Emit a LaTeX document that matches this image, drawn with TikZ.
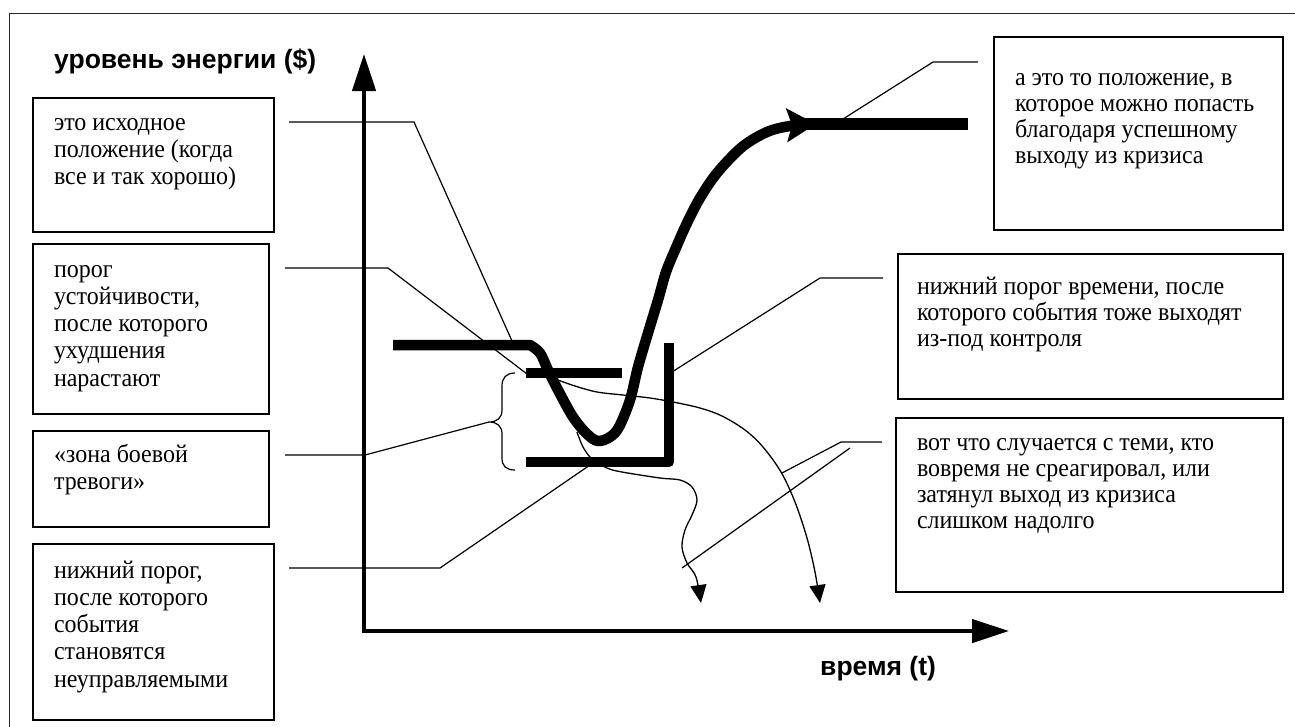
\documentclass[tikz,border=0pt]{standalone}
\usepackage{fontspec}
\setmainfont[FakeStretch=0.94]{Liberation Serif}
\newfontfamily\labelfont{Liberation Sans}
\usetikzlibrary{arrows.meta,calc}

% box body: #1 box width, #2 box height, #3 left padding, #4 first baseline offset, #5 text
\newcommand\notebody[5]{%
  \hbox to #1{\hspace*{#3}\parbox[t][#2][t]{\dimexpr#1-#3\relax}{\raggedright\rule{0pt}{#4}#5}\hss}}

\begin{document}
\begin{tikzpicture}[x=1pt,y=-1pt,
  note/.style={draw, line width=1.4pt, inner sep=0pt, outer sep=0pt, anchor=north west,
               font=\fontsize{25.5}{27.3}\selectfont},
  noteR/.style={note, font=\fontsize{25.5}{26}\selectfont},
  axislabel/.style={font=\labelfont\bfseries\fontsize{26.5}{30}\selectfont, inner sep=0pt, anchor=base west},
  axis/.style={line width=4.5pt, line join=miter},
  heavy/.style={line width=10.5pt, line join=round},
  thin/.style={line width=1.3pt, line join=round},
  leader/.style={line width=1.2pt}
]
\useasboundingbox (0,0) rectangle (1295,726);
\clip (0,0) rectangle (1295,726);

% outer frame
\draw[line width=1.3pt, black!85] (9.5,13.3) rectangle (1320,760);

% axis labels
\node[axislabel] (ylab) at (54,68) {уровень энергии (\$)};
\node[axislabel] (xlab) at (820,675) {время (t)};

% axes
\coordinate (ytip) at (364,54);
\coordinate (O) at (364,631);
\coordinate (xtip) at (1009,631);
\draw[axis, {Triangle[length=37pt,width=23pt]}-{Triangle[length=37pt,width=23pt]}]
  (ytip) -- (O) -- (xtip);

% left note boxes
\node[note] (b1) at (33,98)
  {\notebody{241pt}{134pt}{21pt}{32pt}{это исходное\\положение (когда\\все и так хорошо)}};
\node[note] (b2) at (33,244)
  {\notebody{236pt}{170pt}{21pt}{33pt}{порог\\устойчивости,\\после которого\\ухудшения\\нарастают}};
\node[note] (b3) at (33,431)
  {\notebody{236pt}{96pt}{21pt}{31pt}{«зона боевой\\тревоги»}};
\node[note] (b4) at (33,544)
  {\notebody{241pt}{176pt}{21pt}{34pt}{нижний порог,\\после которого\\события\\становятся\\неуправляемыми}};

% right note boxes
\node[noteR] (b5) at (994,37)
  {\notebody{289pt}{193pt}{21pt}{48pt}{а это то положение, в\\которое можно попасть\\благодаря успешному\\выходу из кризиса}};
\node[noteR] (b6) at (898,254)
  {\notebody{385pt}{145pt}{19pt}{40pt}{нижний порог времени, после\\которого события тоже выходят\\из-под контроля}};
\node[noteR] (b7) at (896,418)
  {\notebody{387pt}{174pt}{21pt}{32pt}{вот что случается с теми, кто\\вовремя не среагировал, или\\затянул выход из кризиса\\слишком надолго}};

% thresholds
\coordinate (upL) at (526,373);
\coordinate (upR) at (622,373);
\coordinate (loL) at (526,462);
\coordinate (loC) at (669,462);
\coordinate (loT) at (669,343);
\draw[heavy, line width=10pt, line cap=butt] (upL) -- (upR);
\draw[heavy, line width=10pt] (loL) -- (loC) -- (loT);

% main trajectory: plateau, dip, recovery
\coordinate (start) at (393,345);
\coordinate (goal) at (816,124);
\draw[heavy, -{Stealth[length=29pt,width=33pt,inset=5pt]}]
  (start) -- (530,345)
  -- plot[smooth, tension=0.55] coordinates {(530,345) (540,353) (548,370) (558,390)
     (573,417) (587,434) (598,441) (610,437) (619,427) (630,400) (638,367) (648,333)
     (658,300) (666,272) (675,250) (687,223) (700,198) (717,173) (742,147) (767,132)
     (790,126) (goal)};
\coordinate (topA) at (805,124);
\coordinate (topB) at (968,124);
\draw[heavy, line width=12pt] (topA) -- (topB);

% failure trajectories
\coordinate (fallA) at (820,603);
\coordinate (fallB) at (701,603);
\draw[thin, -{Triangle[length=18pt,width=16pt]}]
  plot[smooth, tension=0.55] coordinates {(555,379) (575,386) (597,392) (623,395) (650,398)
     (673,402) (700,408) (722,416) (745,430) (763,447) (781,472) (795,502) (807,538)
     (815,572) (fallA)};
\draw[thin, -{Triangle[length=18pt,width=16pt]}]
  plot[smooth, tension=0.55] coordinates {(577,432) (583,447) (592,459) (607,468) (622,472)
     (660,478) (680,480) (692,487) (697,500) (692,515) (685,530) (682,547) (687,563)
     (696,577) (fallB)};

% alarm zone brace
\coordinate (brace) at (489,422);
\draw[thin, line width=1.2pt] (515,373) .. controls (506,373) and (502,378) .. (502,386)
  -- (502,410) .. controls (502,418) and (497,422) .. (brace)
  .. controls (497,422) and (502,426) .. (502,434)
  -- (502,458) .. controls (502,466) and (506,470) .. (515,470);

% leader lines
\coordinate (p1) at (512,341);
\coordinate (p2) at (527,374);
\coordinate (p4) at (590,465);
\coordinate (p5) at (843,119);
\coordinate (p6) at (672,372);
\coordinate (p7a) at (782,473);
\coordinate (p7b) at (682,568);
\draw[leader] ($(b1.north east)+(15,24)$) -- (414,122) -- (p1);
\draw[leader] ($(b2.north east)+(16,24)$) -- (388,268) -- (p2);
\draw[leader] ($(b3.north east)+(16,24)$) -- (365,455) -- (brace);
\draw[leader] ($(b4.north east)+(15,24)$) -- (440,568) -- (p4);
\draw[leader] ($(b5.north west)+(-16,25)$) -- (933,62) -- (p5);
\draw[leader] ($(b6.north west)+(-15,24)$) -- (820,278) -- (p6);
\draw[leader] ($(b7.north west)+(-14,24)$) -- (841,442) -- (p7a);
\draw[leader] (850,448) -- (p7b);
\end{tikzpicture}
\end{document}
